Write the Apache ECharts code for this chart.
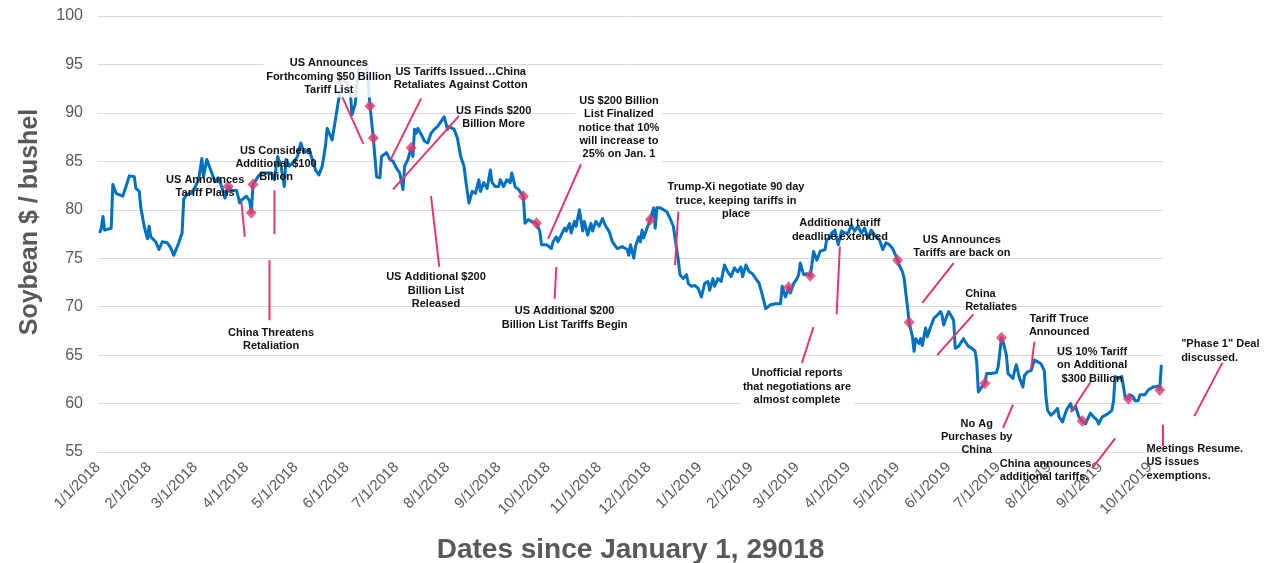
<!DOCTYPE html>
<html>
<head>
<meta charset="utf-8">
<script src="https://cdn.jsdelivr.net/npm/echarts@6/dist/echarts.min.js"></script>
<style>
  html, body { margin: 0; padding: 0; background: #ffffff; }
  #chart { width: 1266px; height: 563px; }
</style>
</head>
<body>
<div id="chart"></div>
<script>
// ---------------- DATA ----------------
const dates = [
 '2018-01-02','2018-01-03','2018-01-04','2018-01-05','2018-01-09','2018-01-10','2018-01-12','2018-01-16','2018-01-18','2018-01-20',
 '2018-01-23','2018-01-24','2018-01-26','2018-01-27','2018-01-29','2018-01-31','2018-02-01','2018-02-02','2018-02-05','2018-02-07',
 '2018-02-09','2018-02-12','2018-02-14','2018-02-16','2018-02-19','2018-02-21','2018-02-22','2018-02-24','2018-02-27','2018-03-01',
 '2018-03-03','2018-03-05','2018-03-06','2018-03-08','2018-03-11','2018-03-13','2018-03-15','2018-03-17','2018-03-19','2018-03-21',
 '2018-03-23','2018-03-26','2018-03-28','2018-03-29','2018-04-01','2018-04-03','2018-04-04','2018-04-05','2018-04-08','2018-04-10',
 '2018-04-16','2018-04-18','2018-04-20','2018-04-22','2018-04-24','2018-04-25','2018-04-27','2018-04-30','2018-05-02','2018-05-04',
 '2018-05-06','2018-05-09','2018-05-10','2018-05-13','2018-05-15','2018-05-17','2018-05-19','2018-05-20','2018-05-22','2018-05-23',
 '2018-05-25','2018-05-27','2018-05-29','2018-06-01','2018-06-03','2018-06-04','2018-06-06','2018-06-08','2018-06-10','2018-06-13',
 '2018-06-14','2018-06-15','2018-06-17','2018-06-19','2018-06-21','2018-06-22','2018-06-25','2018-06-27','2018-06-29','2018-07-01',
 '2018-07-03','2018-07-05','2018-07-06','2018-07-08','2018-07-10','2018-07-11','2018-07-12','2018-07-13','2018-07-14','2018-07-16',
 '2018-07-18','2018-07-20','2018-07-22','2018-07-24','2018-07-26','2018-07-28','2018-07-30','2018-08-01','2018-08-02','2018-08-05',
 '2018-08-07','2018-08-09','2018-08-11','2018-08-12','2018-08-14','2018-08-16','2018-08-18','2018-08-20','2018-08-21','2018-08-23',
 '2018-08-25','2018-08-27','2018-08-28','2018-08-30','2018-09-01','2018-09-02','2018-09-04','2018-09-06','2018-09-08','2018-09-09',
 '2018-09-11','2018-09-13','2018-09-16','2018-09-17','2018-09-19','2018-09-21','2018-09-24','2018-09-26','2018-09-27','2018-09-30',
 '2018-10-03','2018-10-04','2018-10-06','2018-10-07','2018-10-09','2018-10-11','2018-10-12','2018-10-14','2018-10-15','2018-10-17',
 '2018-10-18','2018-10-20','2018-10-22','2018-10-23','2018-10-25','2018-10-27','2018-10-28','2018-10-30','2018-11-01','2018-11-03',
 '2018-11-05','2018-11-07','2018-11-09','2018-11-12','2018-11-15','2018-11-18','2018-11-19','2018-11-20','2018-11-22','2018-11-23',
 '2018-11-25','2018-11-26','2018-11-27','2018-11-28','2018-11-30','2018-12-02','2018-12-04','2018-12-05','2018-12-06','2018-12-08',
 '2018-12-10','2018-12-12','2018-12-14','2018-12-16','2018-12-17','2018-12-19','2018-12-20','2018-12-22','2018-12-24','2018-12-25',
 '2018-12-27','2018-12-29','2018-12-31','2019-01-02','2019-01-04','2019-01-06','2019-01-07','2019-01-09','2019-01-10','2019-01-12',
 '2019-01-14','2019-01-16','2019-01-18','2019-01-20','2019-01-22','2019-01-24','2019-01-26','2019-01-27','2019-01-29','2019-01-31',
 '2019-02-02','2019-02-04','2019-02-06','2019-02-08','2019-02-10','2019-02-13','2019-02-16','2019-02-19','2019-02-20','2019-02-22',
 '2019-02-24','2019-02-25','2019-02-27','2019-03-01','2019-03-02','2019-03-03','2019-03-05','2019-03-07','2019-03-09','2019-03-10',
 '2019-03-11','2019-03-13','2019-03-15','2019-03-16','2019-03-18','2019-03-19','2019-03-21','2019-03-22','2019-03-24','2019-03-26',
 '2019-03-28','2019-03-30','2019-04-01','2019-04-03','2019-04-05','2019-04-07','2019-04-09','2019-04-11','2019-04-13','2019-04-15',
 '2019-04-17','2019-04-20','2019-04-22','2019-04-24','2019-04-26','2019-04-28','2019-05-01','2019-05-02','2019-05-04','2019-05-05',
 '2019-05-06','2019-05-07','2019-05-08','2019-05-10','2019-05-11','2019-05-12','2019-05-14','2019-05-15','2019-05-16','2019-05-18',
 '2019-05-19','2019-05-21','2019-05-23','2019-05-25','2019-05-27','2019-05-28','2019-05-29','2019-05-31','2019-06-01','2019-06-03',
 '2019-06-04','2019-06-05','2019-06-07','2019-06-08','2019-06-10','2019-06-11','2019-06-13','2019-06-15','2019-06-17','2019-06-18',
 '2019-06-19','2019-06-21','2019-06-23','2019-06-24','2019-06-27','2019-06-30','2019-07-01','2019-07-02','2019-07-03','2019-07-04',
 '2019-07-06','2019-07-07','2019-07-08','2019-07-10','2019-07-11','2019-07-12','2019-07-14','2019-07-16','2019-07-17','2019-07-19',
 '2019-07-21','2019-07-23','2019-07-25','2019-07-27','2019-07-29','2019-07-30','2019-07-31','2019-08-02','2019-08-04','2019-08-06',
 '2019-08-07','2019-08-09','2019-08-11','2019-08-12','2019-08-14','2019-08-15','2019-08-17','2019-08-19','2019-08-21','2019-08-23',
 '2019-08-24','2019-08-26','2019-08-28','2019-08-30','2019-08-31','2019-09-02','2019-09-04','2019-09-06','2019-09-08','2019-09-09',
 '2019-09-10','2019-09-12','2019-09-13','2019-09-14','2019-09-16','2019-09-18','2019-09-19','2019-09-21','2019-09-22','2019-09-24',
 '2019-09-25','2019-09-28','2019-09-30','2019-10-03','2019-10-06','2019-10-07','2019-10-08'
];
const prices = [
 77.6,78.1,79.3,77.9,78.1,82.6,81.7,81.4,82.4,83.5,
 83.4,82.2,81.9,80.2,78.3,77.0,78.3,77.2,76.7,75.9,
 76.7,76.6,76.1,75.3,76.6,77.6,81.1,81.6,81.7,82.4,
 83.1,85.3,83.4,85.2,83.8,82.9,83.3,82.4,81.2,82.4,
 82.0,82.0,80.7,81.0,81.4,80.9,79.7,82.6,83.4,83.8,
 83.8,83.1,85.5,84.5,82.4,85.2,84.5,85.0,85.5,86.9,
 85.9,86.2,85.7,84.1,83.6,84.5,86.6,88.4,87.6,87.2,
 89.3,91.4,93.4,93.2,92.4,89.8,90.9,94.5,95.0,95.2,
 92.8,90.7,87.4,83.4,83.3,85.5,85.9,85.2,85.0,84.3,
 83.8,82.1,84.5,85.2,86.4,85.5,88.3,87.9,88.4,87.8,
 87.1,86.9,87.9,88.3,88.6,89.1,89.6,88.3,88.6,88.3,
 87.4,85.5,84.5,83.1,80.7,81.9,81.7,83.1,81.9,82.8,
 82.2,84.1,82.8,82.4,82.4,83.1,82.4,83.1,82.8,83.8,
 82.4,82.1,81.4,78.6,79.0,78.8,78.6,77.8,76.4,76.4,
 76.0,76.7,77.2,76.7,77.4,78.1,77.8,78.6,77.6,78.8,
 78.3,80.0,77.8,78.8,77.4,78.6,77.8,78.8,78.3,79.1,
 78.3,77.8,76.7,76.0,76.2,75.9,75.3,76.4,75.0,76.2,
 77.2,76.7,77.9,77.1,78.1,79.0,80.2,78.1,80.2,80.2,
 80.0,79.8,79.1,78.3,77.1,74.8,73.3,72.9,73.3,72.4,
 72.1,72.2,71.9,71.0,72.4,72.6,71.7,72.9,72.1,72.9,
 72.6,74.3,73.6,73.1,74.0,73.6,74.1,73.1,74.3,73.6,
 73.4,72.9,72.4,71.2,69.8,70.2,70.3,70.3,72.1,71.0,
 72.0,71.4,72.4,72.9,73.3,74.5,73.3,73.4,73.2,74.3,
 75.7,74.8,75.7,75.5,75.9,76.9,77.1,77.6,77.9,76.4,
 77.8,77.6,77.6,78.4,77.8,78.3,77.6,78.1,77.1,77.9,
 77.4,76.9,75.9,76.6,76.4,76.0,74.8,74.3,73.6,72.9,
 71.4,70.0,68.4,66.9,65.4,66.7,66.2,66.7,66.0,67.8,
 66.9,67.9,68.8,69.1,69.5,69.1,68.1,69.1,69.5,68.9,
 68.6,65.7,65.9,65.7,66.7,66.4,65.9,65.7,65.4,64.3,
 61.2,61.7,62.1,63.1,63.1,63.2,63.8,65.2,66.8,66.4,
 65.0,63.1,63.3,62.6,63.4,64.0,62.6,61.7,62.9,63.3,
 63.4,64.5,64.3,64.1,63.4,60.7,59.3,58.8,59.1,59.5,
 58.6,58.1,59.1,59.5,60.0,59.3,59.7,58.6,58.2,57.9,
 58.3,59.0,58.6,58.3,57.9,58.6,58.8,59.0,59.3,60.3,
 62.8,62.6,62.4,62.8,60.7,60.5,60.9,60.7,60.3,60.3,
 60.9,60.9,61.4,61.7,61.8,61.4,64.0
];

// event markers (pink diamonds)
const eventDates = ['2018-03-21','2018-04-04','2018-04-05','2018-05-29','2018-06-15','2018-06-17','2018-07-10',
  '2018-09-16','2018-09-24','2018-12-02','2019-02-24','2019-03-09','2019-05-01','2019-05-08','2019-06-23',
  '2019-07-03','2019-08-21','2019-09-18','2019-10-07'];
const eventPrices = [82.4,79.7,82.6,93.4,90.7,87.4,86.4,81.4,78.6,79.0,72.0,73.2,74.8,68.4,62.1,66.8,58.2,60.5,61.4];

// annotation texts, anchored (top of text) at date / price
const noteTexts = [
  'US Announces\nTariff Plans',
  'US Considers\nAdditional $100\nBillion',
  'China Threatens\nRetaliation',
  'US Announces\nForthcoming $50 Billion\nTariff List',
  'US Tariffs Issued…China\nRetaliates Against Cotton',
  'US Finds $200\nBillion More',
  'US Additional $200\nBillion List\nReleased',
  'US $200 Billion\nList Finalized\nnotice that 10%\nwill increase to\n25% on Jan. 1',
  'US Additional $200\nBillion List Tariffs Begin',
  'Trump-Xi negotiate 90 day\ntruce, keeping tariffs in\nplace',
  'Additional tariff\ndeadline extended',
  'Unofficial reports\nthat negotiations are\nalmost complete',
  'US Announces\nTariffs are back on',
  'China\nRetaliates',
  'Tariff Truce\nAnnounced',
  'US 10% Tariff\non Additional\n$300 Billion',
  'No Ag\nPurchases by\nChina',
  'China announces\nadditional tariffs.',
  'Meetings Resume.\nUS issues\nexemptions.',
  '"Phase 1" Deal\ndiscussed.'
];
const noteDates = ['2018-03-07','2018-04-19','2018-04-16','2018-05-21','2018-08-09','2018-08-29','2018-07-25',
  '2018-11-13','2018-10-11','2019-01-23','2019-03-27','2019-03-01','2019-06-09','2019-06-11','2019-08-07',
  '2019-08-27','2019-06-18','2019-07-02','2019-09-29','2019-10-20'];
const notePrices = [83.8,86.8,68.0,95.9,94.9,90.9,73.7,92.0,70.2,83.0,79.3,63.9,77.6,72.0,69.4,66.0,58.6,54.5,56.0,66.8];
const noteAlign = ['center','center','center','center','center','center','center','center','center','center',
  'center','center','center','left','center','center','center','left','left','left'];
const noteBoxed = [0,0,0,1,0,0,0,1,0,0,0,1,0,0,0,0,0,0,0,0];

// pink leader lines: start (date, price) -> end (date, price)
const leadStartDates = ['2018-03-29','2018-04-18','2018-04-15','2018-05-29','2018-07-16','2018-08-08','2018-07-22',
  '2018-10-21','2018-10-06','2018-12-19','2019-03-27','2019-03-11','2019-06-04','2019-06-16','2019-07-23',
  '2019-08-26','2019-07-10','2019-09-10','2019-10-09','2019-11-14'];
const leadStartPrices = [80.8,82.0,74.8,91.7,91.5,89.7,81.4,84.7,74.1,79.8,76.2,67.9,74.5,69.2,66.4,62.2,59.9,56.4,57.8,64.2];
const leadEndDates = ['2018-03-31','2018-04-18','2018-04-15','2018-06-11','2018-06-27','2018-06-29','2018-07-27',
  '2018-10-01','2018-10-05','2018-12-17','2019-03-25','2019-03-04','2019-05-16','2019-05-25','2019-07-21',
  '2019-08-14','2019-07-04','2019-08-27','2019-10-09','2019-10-28'];
const leadEndPrices = [77.2,77.5,68.6,86.8,85.0,82.1,74.1,77.0,70.8,74.3,69.2,64.2,70.4,65.0,63.6,59.1,57.5,53.3,55.6,58.7];

// axis
const monthLabels = ['1/1/2018','2/1/2018','3/1/2018','4/1/2018','5/1/2018','6/1/2018','7/1/2018','8/1/2018',
  '9/1/2018','10/1/2018','11/1/2018','12/1/2018','1/1/2019','2/1/2019','3/1/2019','4/1/2019','5/1/2019',
  '6/1/2019','7/1/2019','8/1/2019','9/1/2019','10/1/2019'];
const xStart = '2018-01-01';
const xEnd = '2019-10-09';
const yMin = 55, yMax = 100, yStep = 5;
const yTitle = 'Soybean $ / bushel';
const xTitle = 'Dates since January 1, 29018';

// ---------------- HELPERS ----------------
function ts(s) { const [y, m, d] = s.split('-').map(Number); return Date.UTC(y, m - 1, d); }
function tsUS(s) { const [m, d, y] = s.split('/').map(Number); return Date.UTC(y, m - 1, d); }
const monthTs = monthLabels.map(tsUS);

const PINK = '#E2386C';
const BLUE = '#0070C0';
const GRAY = '#595959';
const FONT = '"Liberation Sans", Arial, Helvetica, sans-serif';

const chart = echarts.init(document.getElementById('chart'), null, { renderer: 'canvas' });

chart.setOption({
  animation: false,
  backgroundColor: '#ffffff',
  grid: { left: 98, right: 103, top: 16, bottom: 111, containLabel: false, outerBoundsMode: 'none' },
  xAxis: {
    type: 'value',
    min: ts(xStart),
    max: ts(xEnd),
    name: xTitle,
    nameLocation: 'middle',
    nameGap: 84,
    nameTextStyle: { fontFamily: FONT, fontWeight: 'bold', fontSize: 28, color: GRAY },
    axisLine: { show: true, lineStyle: { color: '#D9D9D9', width: 1 } },
    axisTick: { show: false },
    splitLine: { show: false },
    axisLabel: {
      customValues: monthTs,
      rotate: 45,
      margin: 13,
      hideOverlap: false,
      fontFamily: FONT,
      fontSize: 15,
      color: GRAY,
      formatter: function (v) {
        const i = monthTs.indexOf(v);
        return i >= 0 ? monthLabels[i] : '';
      }
    }
  },
  yAxis: {
    type: 'value',
    min: yMin,
    max: yMax,
    interval: yStep,
    name: yTitle,
    nameLocation: 'middle',
    nameGap: 55,
    nameTextStyle: { fontFamily: FONT, fontWeight: 'bold', fontSize: 25, color: GRAY, padding: [0, 0, 0, 24] },
    axisLine: { show: false },
    axisTick: { show: false },
    splitLine: { show: true, lineStyle: { color: '#D9D9D9', width: 1 } },
    axisLabel: { fontFamily: FONT, fontSize: 16, color: GRAY, margin: 15 }
  },
  series: [
    {
      type: 'line',
      name: 'Soybean',
      data: dates.map((d, i) => [ts(d), prices[i]]),
      showSymbol: false,
      symbol: 'none',
      lineStyle: { color: BLUE, width: 3, join: 'round' },
      z: 2
    },
    {
      type: 'custom',
      name: 'leaders',
      coordinateSystem: 'cartesian2d',
      clip: false,
      z: 3,
      silent: true,
      data: leadStartDates.map((d, i) => [ts(d), leadStartPrices[i], ts(leadEndDates[i]), leadEndPrices[i]]),
      encode: { x: [0, 2], y: [1, 3] },
      renderItem: function (params, api) {
        const a = api.coord([api.value(0), api.value(1)]);
        const b = api.coord([api.value(2), api.value(3)]);
        return {
          type: 'line',
          shape: { x1: a[0], y1: a[1], x2: b[0], y2: b[1] },
          style: { stroke: PINK, lineWidth: 2 }
        };
      }
    },
    {
      type: 'scatter',
      name: 'events',
      data: eventDates.map((d, i) => [ts(d), eventPrices[i]]),
      symbol: 'diamond',
      symbolSize: [11, 12],
      itemStyle: { color: PINK },
      clip: false,
      z: 4
    },
    {
      type: 'custom',
      name: 'notes',
      coordinateSystem: 'cartesian2d',
      clip: false,
      z: 5,
      silent: true,
      data: noteDates.map((d, i) => [ts(d), notePrices[i], i]),
      encode: { x: 0, y: 1 },
      renderItem: function (params, api) {
        const i = api.value(2);
        const p = api.coord([api.value(0), api.value(1)]);
        const style = {
          text: noteTexts[i],
          fill: '#111111',
          font: 'bold 11px ' + FONT,
          align: noteAlign[i],
          verticalAlign: 'top',
          lineHeight: 13.3
        };
        if (noteBoxed[i]) {
          style.backgroundColor = 'rgba(255,255,255,0.85)';
          style.padding = [1, 3, 1, 3];
        }
        return { type: 'text', x: p[0], y: p[1], style: style };
      }
    }
  ]
});
</script>
</body>
</html>
